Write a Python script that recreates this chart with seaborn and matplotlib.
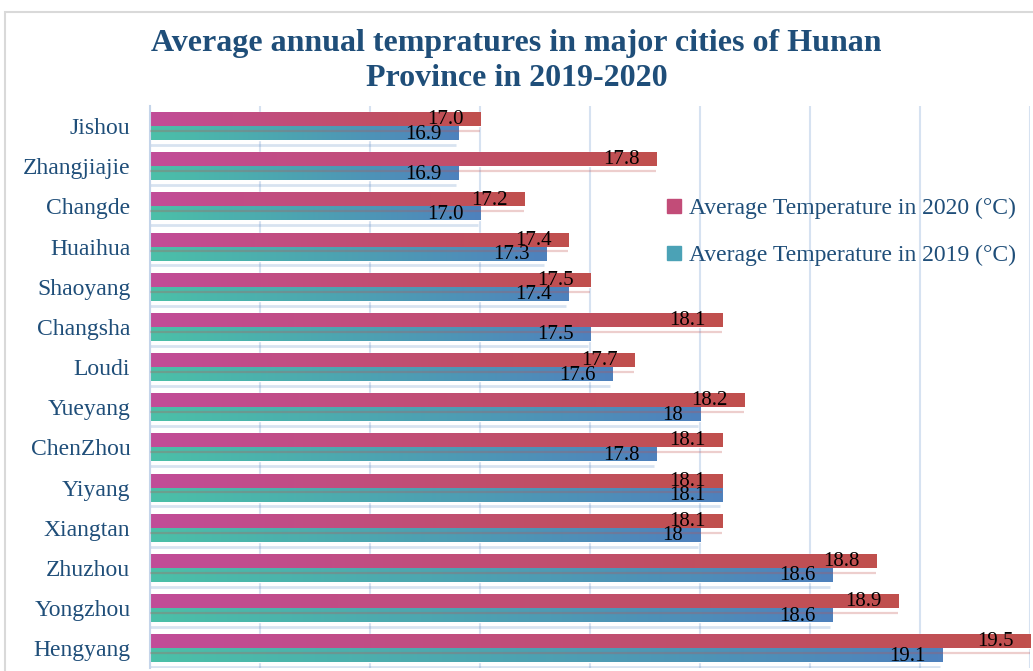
import numpy as np
import pandas as pd
import matplotlib.pyplot as plt
import seaborn as sns
from matplotlib.colors import LinearSegmentedColormap
from matplotlib.lines import Line2D
from matplotlib.patches import Rectangle

# data
cities = ['Jishou', 'Zhangjiajie', 'Changde', 'Huaihua', 'Shaoyang', 'Changsha', 'Loudi',
          'Yueyang', 'ChenZhou', 'Yiyang', 'Xiangtan', 'Zhuzhou', 'Yongzhou', 'Hengyang']
temp_2020 = [17.0, 17.8, 17.2, 17.4, 17.5, 18.1, 17.7, 18.2, 18.1, 18.1, 18.1, 18.8, 18.9, 19.5]
temp_2019 = [16.9, 16.9, 17.0, 17.3, 17.4, 17.5, 17.6, 18.0, 17.8, 18.1, 18.0, 18.6, 18.6, 19.1]
labels_2020 = ['17.0', '17.8', '17.2', '17.4', '17.5', '18.1', '17.7', '18.2', '18.1', '18.1',
               '18.1', '18.8', '18.9', '19.5']
labels_2019 = ['16.9', '16.9', '17.0', '17.3', '17.4', '17.5', '17.6', '18', '17.8', '18.1',
               '18', '18.6', '18.6', '19.1']
years = ['2020', '2019']
legend_names = ['Average Temperature in 2020 (°C)', 'Average Temperature in 2019 (°C)']

df = pd.DataFrame({
    'city': cities * 2,
    'temp': temp_2020 + temp_2019,
    'year': ['2020'] * len(cities) + ['2019'] * len(cities),
})

sns.set_style('white')
plt.rcParams['font.family'] = ['Liberation Serif', 'DejaVu Serif']

navy = '#1F4E79'
grid_col = '#D6E2F1'
x_min, x_max = 15.5, 19.5

fig = plt.figure(figsize=(10.33, 6.71), dpi=100)
ax = fig.add_axes([0.145, 0.004, 0.852, 0.838])

sns.barplot(data=df, y='city', x='temp', hue='year', hue_order=years, orient='h',
            width=0.7, palette=['#C0504D', '#4F81BD'], saturation=1, errorbar=None,
            legend=False, ax=ax)

# gradient fills (pink->red, teal->blue)
cmaps = {
    '2020': LinearSegmentedColormap.from_list('c20', ['#C24C98', '#C0504D']),
    '2019': LinearSegmentedColormap.from_list('c19', ['#4BC0A8', '#4F81BD']),
}
grad = np.linspace(0, 1, 256).reshape(1, -1)
for cont, yr in zip(ax.containers, years):
    for bar in cont:
        bb = bar.get_bbox()
        im = ax.imshow(grad, extent=[x_min, bb.x1, bb.y1, bb.y0], aspect='auto',
                       cmap=cmaps[yr], zorder=2, interpolation='bilinear')
        im.set_clip_path(bar)
        bar.set_facecolor('none')

# faint reflections under bars
for i in range(len(cities)):
    ax.hlines(i + 0.12, x_min, temp_2020[i], color='#C0504D', alpha=0.28, lw=1.6, zorder=3)
    ax.hlines(i + 0.47, x_min, temp_2019[i] - 0.01, color='#4F81BD', alpha=0.22, lw=2, zorder=1)

# value labels
for i in range(len(cities)):
    ax.text(temp_2020[i] - 0.075, i - 0.16, labels_2020[i], ha='right', va='center',
            fontsize=15, color='black', zorder=5)
    ax.text(temp_2019[i] - 0.075, i + 0.2, labels_2019[i], ha='right', va='center',
            fontsize=15, color='black', zorder=5)

ax.set_xlim(x_min, x_max)
ax.set_ylim(len(cities) - 0.5, -0.5)
ax.set_xticks(np.arange(x_min, x_max + 0.01, 0.5))
ax.xaxis.grid(True, color=grid_col, lw=1.5)
ax.set_axisbelow(True)
ax.tick_params(axis='x', length=0, labelbottom=False)
ax.tick_params(axis='y', which='major', length=0, pad=14, labelsize=17, labelcolor=navy)
ax.set_yticks(np.arange(-0.5, len(cities), 1), minor=True)
ax.tick_params(axis='y', which='minor', length=5, width=1.5, color='#C5D5EA')
ax.set_xlabel('')
ax.set_ylabel('')
for s in ['top', 'right', 'bottom']:
    ax.spines[s].set_visible(False)
ax.spines['left'].set_color('#C5D5EA')
ax.spines['left'].set_linewidth(1.5)

# legend
handles = [Line2D([], [], ls='', marker='s', markersize=10, color='#C24C78'),
           Line2D([], [], ls='', marker='s', markersize=10, color='#4BA2B6')]
fig.legend(handles, legend_names, loc='upper left', bbox_to_anchor=(0.622, 0.737),
           frameon=False, fontsize=17, labelcolor=navy, labelspacing=1.08,
           handletextpad=0.15, handlelength=0.9)

fig.text(0.5, 1 - 61 / 671, 'Average annual tempratures in major cities of Hunan\nProvince in 2019-2020',
         ha='center', va='center', fontsize=23, weight='bold', color=navy, linespacing=1.25)

fig.patches.append(Rectangle((5 / 1033, -0.05), 1.1, 1 - 12 / 671 + 0.05, transform=fig.transFigure,
                             fill=False, ec='#D9D9D9', lw=1.5))

fig.savefig('out.png', dpi=100)
